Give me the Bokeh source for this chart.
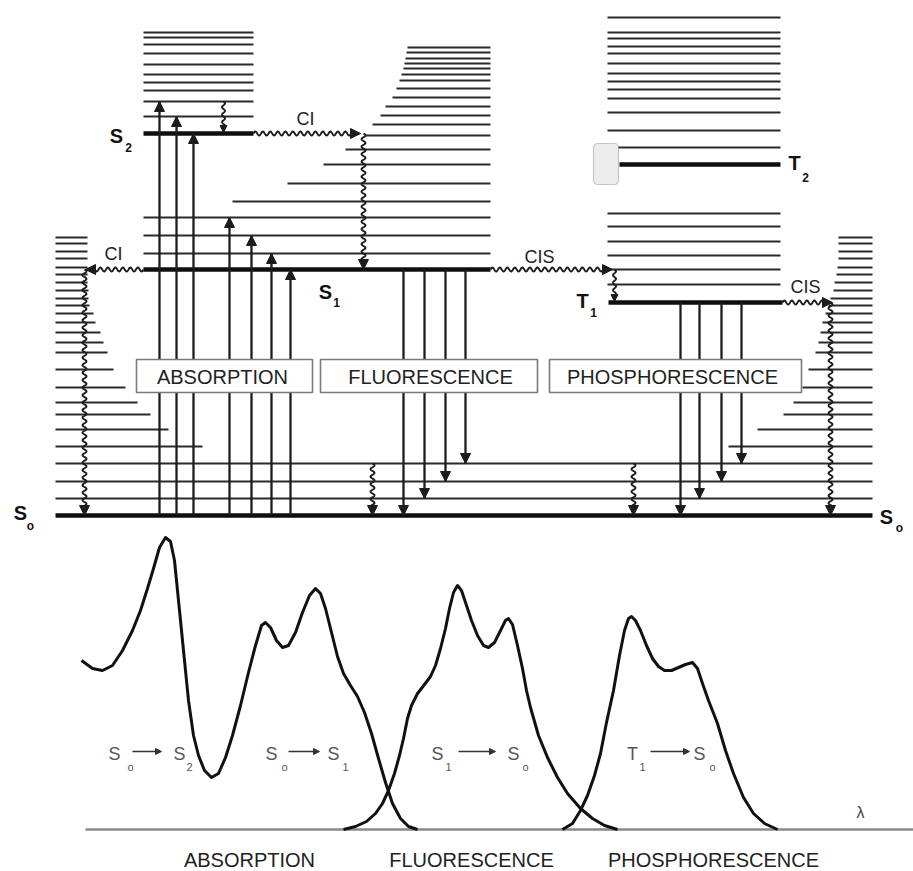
import numpy as np
from bokeh.plotting import figure
from bokeh.layouts import column
from bokeh.models import Range1d, Arrow, NormalHead, ColumnDataSource, BoxAnnotation
from bokeh.core.properties import value
from bokeh.embed import file_html
from bokeh.resources import INLINE

# ---------------- data ----------------
# electronic levels: energy above S0 (diagram units)
S0_E, S1_E, S2_E, T1_E, T2_E = 0, 246, 382, 213, 351
# horizontal extents of the level stacks
S0_SPAN = (55, 872)
S1_SPAN = (143, 490)
S2_SPAN = (143, 253)
T_SPAN = (607, 780)
T1_SPAN = (608, 782)
T2_SPAN = (619, 780)

# S0 vibrational levels spanning the whole diagram
S0_VIB_FULL = [17, 34, 52]
# S0 vibrational levels shown only at both sides
S0_VIB_SIDE = [69, 86, 101, 113, 128, 146, 163, 173, 183, 193, 202, 210, 217, 225, 233, 241, 248, 257, 264, 272, 278]
S0_SIDE_LEFT_END = [202, 168, 150, 137, 125, 113, 107, 103, 100, 95, 93, 89, 88, 88, 87, 87, 87, 87, 87, 87, 87]
S0_SIDE_RIGHT_START = [728, 757, 783, 793, 802, 808, 815, 818, 820, 822, 825, 828, 830, 833, 834, 836, 837, 838, 838, 838, 838]
# S1 vibrational levels (and start column of each)
S1_VIB = [262, 280, 298, 314, 332, 351, 366, 380, 391, 400, 409, 418, 427, 435, 441, 447, 452, 457, 463, 468]
S1_VIB_START = [143, 143, 143, 232, 287, 323, 345, 365, 372, 380, 385, 392, 396, 399, 401, 403, 404, 405, 406, 407]
# S2 vibrational levels
S2_VIB = [399, 414, 425, 433, 441, 451, 462, 471, 478, 483]
# triplet manifold vibrational levels
T_VIB = [231, 246, 260, 274, 289, 302, 368, 385, 403, 417, 426, 434, 442, 452, 462, 469, 477, 483, 498]

# radiative transitions
ABS_X = [159, 176, 193, 229, 251, 271, 290]
ABS_TO = [414, 399, 382, 298, 280, 262, 246]
FLU_X = [403, 424, 445, 465]
FLU_TO = [0, 17, 34, 52]
PHO_X = [680, 699, 721, 741]
PHO_TO = [0, 17, 34, 52]

# spectra: wavelength position and intensity
ABS_WL = [81, 92, 102, 112, 122, 132, 140, 147, 153, 159, 165, 170, 174, 178, 183, 188, 193, 198, 204, 211,
          218, 225, 232, 240, 248, 255, 261, 265, 270, 276, 282, 288, 295, 302, 309, 315, 320, 325, 331, 337,
          343, 350, 357, 364, 371, 378, 385, 392, 400, 408, 417]
ABS_I = [169, 161, 159, 164, 179, 199, 219, 241, 261, 282, 292, 288, 269, 229, 179, 129, 94, 74, 59, 52,
         56, 72, 94, 124, 157, 184, 204, 207, 202, 189, 182, 184, 197, 217, 234, 241, 236, 221, 197, 173,
         156, 144, 133, 117, 96, 71, 47, 26, 11, 3, 0]
FLU_WL = [343, 355, 366, 375, 382, 388, 394, 399, 403, 407, 411, 417, 424, 430, 435, 440, 445, 449, 453, 457,
          461, 466, 471, 477, 483, 488, 494, 500, 505, 508, 512, 517, 522, 526, 530, 538, 547, 557, 567, 580,
          592, 604, 617]
FLU_I = [0, 3, 8, 16, 26, 39, 56, 74, 91, 111, 124, 136, 145, 153, 164, 181, 201, 221, 237, 244,
         239, 224, 209, 194, 184, 182, 187, 199, 209, 211, 205, 184, 161, 139, 122, 94, 72, 52, 36, 21,
         11, 4, 0]
PHO_WL = [562, 572, 580, 587, 594, 600, 606, 613, 619, 624, 628, 631, 635, 640, 646, 652, 658, 664, 671, 678,
          685, 692, 697, 702, 708, 717, 725, 733, 743, 753, 764, 777]
PHO_I = [0, 6, 19, 34, 54, 76, 107, 139, 174, 199, 211, 213, 209, 199, 184, 171, 163, 159, 159, 162,
         165, 167, 161, 146, 129, 106, 79, 56, 32, 16, 6, 0]

PROCESS_LABELS = ["ABSORPTION", "FLUORESCENCE", "PHOSPHORESCENCE"]

# ---------------- helpers ----------------
FONT = value("Liberation Sans")
DARK = "#1c1c1c"


def E(row):
    """map a picture row of the upper panel to an energy value"""
    return 515 - row


def I(row):
    """map a picture row of the lower panel to an intensity value"""
    return 829 - row


def wavy(x0, y0, x1, y1, amp=2.0, wl=7.5):
    dx, dy = x1 - x0, y1 - y0
    L = float(np.hypot(dx, dy))
    n = max(int(L * 3), 10)
    t = np.linspace(0, 1, n)
    off = amp * np.sin(2 * np.pi * t * L / wl)
    nx, ny = -dy / L, dx / L
    return list(x0 + dx * t + nx * off), list(y0 + dy * t + ny * off)


def base_fig(h, yr):
    f = figure(width=913, height=h, x_range=Range1d(0, 913), y_range=yr,
               toolbar_location=None, output_backend="svg", min_border=0,
               x_axis_type=None, y_axis_type=None)
    f.grid.visible = False
    f.outline_line_color = None
    f.background_fill_color = "white"
    f.border_fill_color = "white"
    return f


# ---------------- upper panel: Jablonski diagram ----------------
p = base_fig(535, Range1d(-20, 515))

x0, y0, x1, y1 = [], [], [], []


def seg(a, b, c, d):
    x0.append(a); y0.append(b); x1.append(c); y1.append(d)


for e in S0_VIB_FULL:
    seg(S0_SPAN[0], e, S0_SPAN[1], e)
for e, le, rs in zip(S0_VIB_SIDE, S0_SIDE_LEFT_END, S0_SIDE_RIGHT_START):
    seg(S0_SPAN[0], e, le, e)
    seg(rs, e, S0_SPAN[1], e)
for e, st in zip(S1_VIB, S1_VIB_START):
    seg(st, e, S1_SPAN[1], e)
for e in S2_VIB:
    seg(S2_SPAN[0], e, S2_SPAN[1], e)
for e in T_VIB:
    seg(T_SPAN[0], e, T_SPAN[1], e)
p.segment(x0, y0, x1, y1, line_width=1.9, line_color="#2a2a2a")

# thick electronic levels
thick = dict(x0=[S0_SPAN[0], S1_SPAN[0], S2_SPAN[0], T1_SPAN[0], T2_SPAN[0]],
             x1=[S0_SPAN[1], S1_SPAN[1], S2_SPAN[1], T1_SPAN[1], T2_SPAN[1]],
             y=[S0_E, S1_E, S2_E, T1_E, T2_E])
p.segment(thick["x0"], thick["y"], thick["x1"], thick["y"], line_width=4.5, line_color="#0e0e0e")

# radiative transitions (straight arrows)
tx, ty0, ty1 = [], [], []
heads_big = dict(xs=[], ys=[], xe=[], ye=[])
heads_small = dict(xs=[], ys=[], xe=[], ye=[])


def head(d, xs_, ys_, xe_, ye_):
    d["xs"].append(xs_); d["ys"].append(ys_); d["xe"].append(xe_); d["ye"].append(ye_)


for x, e in zip(ABS_X, ABS_TO):
    tx.append(x); ty0.append(S0_E); ty1.append(e)
    head(heads_big, x, e - 12, x, e)
for x, e in zip(FLU_X, FLU_TO):
    tx.append(x); ty0.append(S1_E); ty1.append(e)
    head(heads_big, x, e + 12, x, e)
for x, e in zip(PHO_X, PHO_TO):
    tx.append(x); ty0.append(T1_E); ty1.append(e)
    head(heads_big, x, e + 12, x, e)
p.segment(tx, ty0, tx, ty1, line_width=2.3, line_color=DARK)

# non-radiative (wavy) transitions
wxs, wys = [], []


def wavy_arrow(xa, ya, xb, yb, big=True, amp=2.0):
    L = np.hypot(xb - xa, yb - ya)
    ux, uy = (xb - xa) / L, (yb - ya) / L
    hl = 12 if big else 8
    xs_, ys_ = wavy(xa, ya, xb - ux * (hl - 3), yb - uy * (hl - 3), amp=amp)
    wxs.append(xs_); wys.append(ys_)
    head(heads_big if big else heads_small, xb - ux * hl, yb - uy * hl, xb, yb)


# internal conversion S2 -> S1
wavy_arrow(S2_SPAN[1], S2_E, 360, S2_E)
wavy_arrow(363, S2_E, 363, S1_E)
# internal conversion S1 -> S0
wavy_arrow(S1_SPAN[0], S1_E, 85, S1_E)
wavy_arrow(84, S1_E, 84, S0_E)
# intersystem crossing S1 -> T
wavy_arrow(S1_SPAN[1], S1_E, 612, S1_E)
wavy_arrow(614, S1_E, 614, T1_E + 1, big=False, amp=1.5)
# intersystem crossing T1 -> S0
wavy_arrow(T1_SPAN[1], T1_E, 832, T1_E)
wavy_arrow(830, T1_E, 830, S0_E)
# vibrational relaxation
wavy_arrow(223, 414, 223, S2_E + 1, big=False, amp=1.5)
wavy_arrow(372, 52, 372, S0_E)
wavy_arrow(633, 52, 633, S0_E)
p.multi_line(wxs, wys, line_width=1.9, line_color=DARK)

# process boxes
box_left = [136, 320, 549]
box_right = [312, 537, 801]
p.quad(left=box_left, right=box_right, top=E(359), bottom=E(392),
       fill_color="white", line_color="#7a7a7a", line_width=1.6)
p.text(x=[222, 430, 672], y=[E(376)] * 3, text=PROCESS_LABELS,
       text_font=FONT, text_font_size="20px", text_align="center",
       text_baseline="middle", text_color="#222222")

# small handle-like box on T2
p.add_layout(BoxAnnotation(left=593, right=618, top=E(143), bottom=E(184),
                           fill_color="#ececec", fill_alpha=1.0, line_color="#555555",
                           line_width=1.2, border_radius=4))

# arrow heads
for d, sz in ((heads_big, 10), (heads_small, 7)):
    p.add_layout(Arrow(end=NormalHead(size=sz, fill_color=DARK, line_color=DARK, line_width=1),
                       x_start="xs", y_start="ys", x_end="xe", y_end="ye",
                       line_alpha=0, source=ColumnDataSource(d)))

# level labels
main_lab = dict(x=[116, 325, 582, 794, 20, 886], y=[E(135), E(291), E(300), E(162), E(512), E(516)],
                t=["S", "S", "T", "T", "S", "S"])
sub_lab = dict(x=[128, 336, 593, 805, 30, 899], y=[E(147), E(302), E(312), E(177), E(525), E(527)],
               t=["2", "1", "1", "2", "o", "o"])
p.text(x=main_lab["x"], y=main_lab["y"], text=main_lab["t"], text_font=FONT, text_font_size="20px",
       text_font_style="bold", text_align="center", text_baseline="middle", text_color="#111111")
p.text(x=sub_lab["x"], y=sub_lab["y"], text=sub_lab["t"], text_font=FONT, text_font_size="12px",
       text_font_style="bold", text_align="center", text_baseline="middle", text_color="#111111")
p.text(x=[305, 113, 539, 805], y=[E(118), E(253), E(256), E(286)], text=["CI", "CI", "CIS", "CIS"],
       text_font=FONT, text_font_size="18px", text_align="center", text_baseline="middle",
       text_color="#222222")

# ---------------- lower panel: spectra ----------------
q = base_fig(336, Range1d(-42, 294))
q.segment([85], [0], [913], [0], line_width=2.5, line_color="#8a8a8a")
for wl, inten in ((ABS_WL, ABS_I), (FLU_WL, FLU_I), (PHO_WL, PHO_I)):
    q.line(wl, inten, line_width=3, line_color="#111111", line_join="round")

GRAY = "#555555"
q.text(x=[114, 179, 271, 333, 437, 513, 632, 699], y=[I(753)] * 8,
       text=["S", "S", "S", "S", "S", "S", "T", "S"],
       text_font=FONT, text_font_size="18px", text_align="center", text_baseline="middle",
       text_color=GRAY)
q.text(x=[130, 189, 284, 345, 448, 525, 642, 712], y=[I(766)] * 8,
       text=["o", "2", "o", "1", "1", "o", "1", "o"],
       text_font=FONT, text_font_size="11px", text_align="center", text_baseline="middle",
       text_color=GRAY)
sarr = dict(xs=[132, 288, 458, 650], xe=[161, 319, 495, 689], ys=[I(751)] * 4, ye=[I(751)] * 4)
q.add_layout(Arrow(end=NormalHead(size=6, fill_color="#333333", line_color="#333333"),
                   x_start="xs", y_start="ys", x_end="xe", y_end="ye",
                   line_color="#333333", line_width=1.5, source=ColumnDataSource(sarr)))
q.text(x=[860], y=[I(812)], text=["λ"], text_font=FONT, text_font_size="16px",
       text_align="center", text_baseline="middle", text_color="#444444")
q.text(x=[249, 471, 713], y=[I(859)] * 3, text=PROCESS_LABELS,
       text_font=FONT, text_font_size="20px", text_align="center", text_baseline="middle",
       text_color="#222222")

layout = column(p, q, spacing=0)
open("out.html", "w").write(file_html(layout, INLINE))
